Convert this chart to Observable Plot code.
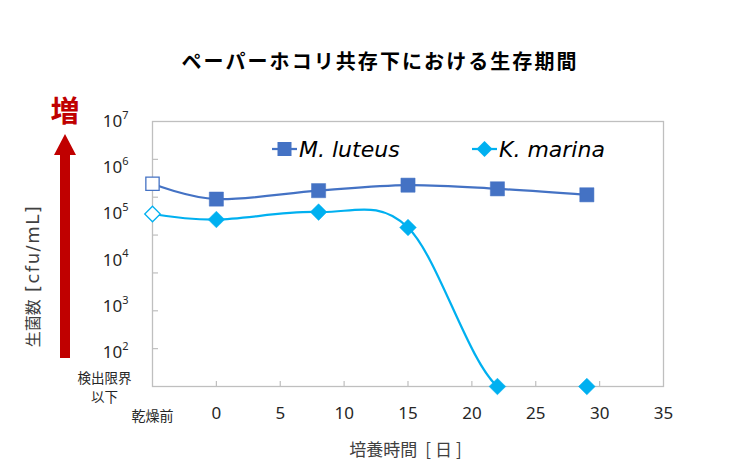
<!DOCTYPE html>
<html>
<head>
<meta charset="utf-8">
<script src="https://cdn.jsdelivr.net/npm/d3@7"></script>
<script src="https://cdn.jsdelivr.net/npm/@observablehq/plot@0.6"></script>
<style>
  body { margin: 0; background: #fff; }
  #chart { position: relative; width: 748px; height: 476px; }
  #chart svg { display: block; }
</style>
</head>
<body>
<div id="chart"></div>
<script>
// ---- text ----
const title = "ペーパーホコリ共存下における生存期間";
const xLabelJa = "培養時間";
const xLabelUnit = " [日]";
const yLabelJa = "生菌数";
const yLabelUnit = " [cfu/mL]";
const upLabel = "増";
const beforeLabel = "乾燥前";
const lodLines = ["検出限界", "以下"];

// ---- data ----
const days = [-5, 0, 8, 15, 22, 29];           // -5 = 乾燥前 (before drying)
const seriesNames = ["M. luteus", "K. marina"];
const mLuteus = [4.5e5, 2.1e5, 3.2e5, 4.2e5, 3.5e5, 2.6e5];   // cfu/mL
const kMarina = [1.0e5, 7.6e4, 1.1e5, 5.1e4, "ND", "ND"];      // ND = 検出限界以下
const colors = ["#4472C4", "#00B0F0"];
const xTicks = [0, 5, 10, 15, 20, 25, 30, 35];
const xInnerTicks = [0, 5, 10, 15, 20, 25, 30];
const yTickExponents = [2, 3, 4, 5, 6, 7];
const lodExponent = 1.27;   // axis bottom = detection limit
const topExponent = 7;

const LOD = 10 ** lodExponent;
const TOP = 10 ** topExponent;
const yTicks = yTickExponents.map(e => 10 ** e);
const yInnerTicks = d3.range(1, 7).map(i => 10 ** (lodExponent + i * (topExponent - lodExponent) / 7));

const rows = [];
[mLuteus, kMarina].forEach((vals, s) => {
  vals.forEach((v, i) => rows.push({
    series: seriesNames[s], day: days[i], value: v === "ND" ? LOD : v, before: i === 0
  }));
});

const W = 748, H = 476, mL = 152, mR = 85, mT = 121, mB = 90;
const frameW = W - mL - mR, frameH = H - mT - mB;
const grey = "#bfbfbf";
const jp = "'Noto Sans CJK JP', sans-serif";

const symbols = ["square", "diamond2"];
const radii = [8, 7.5];

const seriesMarks = seriesNames.flatMap((name, s) => {
  const d = rows.filter(r => r.series === name);
  return [
    Plot.line(d, {x: "day", y: "value", stroke: colors[s], strokeWidth: 2.25, curve: "cardinal", clip: true}),
    Plot.dot(d.filter(r => !r.before), {x: "day", y: "value", symbol: symbols[s], r: radii[s], fill: colors[s], stroke: colors[s], strokeWidth: 0.5}),
    Plot.dot(d.filter(r => r.before), {x: "day", y: "value", symbol: symbols[s], r: radii[s] - 0.5, fill: "white", stroke: colors[s], strokeWidth: 1.3})
  ];
});

const lodMarks = lodLines.map((line, i) =>
  Plot.text([LOD], {y: d => d, frameAnchor: "left", dx: -48, dy: i === 0 ? -8 : 11, textAnchor: "middle",
    fontSize: 13.5, fontFamily: jp, fill: "#262626", text: () => line})
);

const plot = Plot.plot({
  width: W, height: H,
  marginLeft: mL, marginRight: mR, marginTop: mT, marginBottom: mB,
  style: {fontFamily: "'Noto Sans', 'Noto Sans CJK JP', sans-serif", background: "white", color: "#262626"},
  x: {domain: [-5, 35], label: null},
  y: {type: "log", domain: [LOD, TOP], label: null},
  marks: [
    Plot.frame({stroke: grey, strokeWidth: 1.3}),
    Plot.ruleY(yInnerTicks, {y: d => d, stroke: grey, strokeWidth: 1.2, insetRight: frameW - 6}),
    Plot.ruleX(xInnerTicks, {x: d => d, stroke: grey, strokeWidth: 1.2, insetTop: frameH - 5}),
    Plot.axisY({ticks: yTicks, tickSize: 0, tickPadding: 24, fontSize: 17, label: null,
      tickFormat: d => `10^${Math.round(Math.log10(d))}`}),
    ...lodMarks,
    Plot.axisX({ticks: xTicks, tickSize: 0, tickPadding: 20, fontSize: 17, label: null}),
    Plot.axisX({ticks: [-5], tickSize: 0, tickPadding: 25, fontSize: 14,
      fontFamily: jp, label: null, tickFormat: () => beforeLabel}),
    ...seriesMarks
  ]
});

document.getElementById("chart").append(plot);

const s = d3.select(plot);
const xs = plot.scale("x");

// superscripts on y tick labels
s.selectAll('g[aria-label="y-axis tick label"] text').each(function () {
  const m = /^10\^(\d+)$/.exec(this.textContent);
  if (!m) return;
  const el = d3.select(this);
  el.text(null);
  el.append("tspan").text("10");
  el.append("tspan").attr("font-size", 11).attr("dy", "-0.75em").text(m[1]);
});

// title
s.append("text").attr("x", 379).attr("y", 60)
  .attr("text-anchor", "middle").attr("dominant-baseline", "central")
  .attr("font-family", jp).attr("font-weight", "bold").attr("font-size", 20)
  .attr("fill", "#000").attr("textLength", 395).attr("lengthAdjust", "spacing")
  .text(title);

// x axis title
const xt = s.append("text").attr("x", (xs.range[0] + xs.range[1]) / 2).attr("y", 448)
  .attr("text-anchor", "middle").attr("dominant-baseline", "central")
  .attr("font-family", jp).attr("font-size", 17).attr("fill", "#404040");
xt.append("tspan").text(xLabelJa);
xt.append("tspan").attr("letter-spacing", 4).text(xLabelUnit);

// y axis title
const yt = s.append("text").attr("transform", "translate(32,276) rotate(-90)")
  .attr("text-anchor", "middle").attr("dominant-baseline", "central")
  .attr("font-family", jp).attr("font-size", 16).attr("fill", "#404040");
yt.append("tspan").text(yLabelJa);
yt.append("tspan").attr("font-family", "'DejaVu Sans', sans-serif").attr("font-size", 18)
  .attr("letter-spacing", 1.5).text(yLabelUnit);

// red arrow and 増
const red = "#C00000";
s.append("path")
  .attr("d", "M60,358 L70,358 L70,155 L76,155 L65,134 L54,155 L60,155 Z")
  .attr("fill", red);
s.append("text").attr("x", 65).attr("y", 109)
  .attr("text-anchor", "middle").attr("dominant-baseline", "central")
  .attr("font-family", jp).attr("font-weight", "bold").attr("font-size", 29)
  .attr("fill", red).text(upLabel);

// legend
const legendPos = [{lx: 272, tx: 299}, {lx: 472, tx: 499}];
const ly = 149;
seriesNames.forEach((name, i) => {
  const g = s.append("g");
  const {lx, tx} = legendPos[i];
  const cx = lx + 12.5;
  g.append("line").attr("x1", lx).attr("x2", lx + 25).attr("y1", ly).attr("y2", ly)
    .attr("stroke", colors[i]).attr("stroke-width", 2.25);
  if (i === 0) {
    g.append("rect").attr("x", cx - 7).attr("y", ly - 7).attr("width", 14).attr("height", 14).attr("fill", colors[i]);
  } else {
    g.append("path").attr("d", `M${cx},${ly - 8}L${cx + 8},${ly}L${cx},${ly + 8}L${cx - 8},${ly}Z`).attr("fill", colors[i]);
  }
  g.append("text").attr("x", tx).attr("y", ly).attr("dominant-baseline", "central")
    .attr("text-anchor", "start")
    .attr("font-family", "'DejaVu Sans', sans-serif").attr("font-style", "italic")
    .attr("font-size", 22).attr("fill", "#000").text(name);
});
</script>
</body>
</html>
